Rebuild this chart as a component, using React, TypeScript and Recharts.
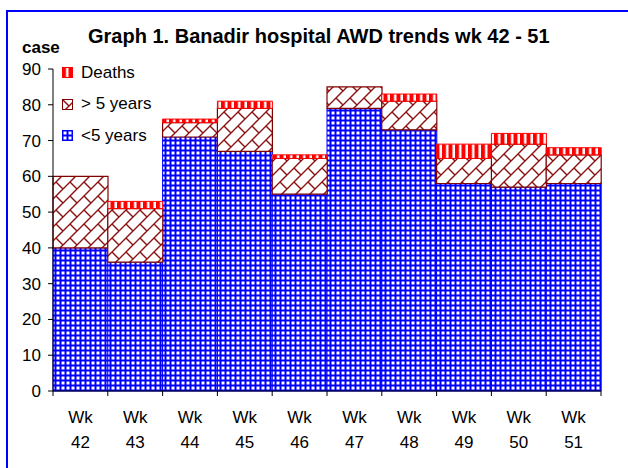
import React from 'react';
import { BarChart, Bar, XAxis, YAxis } from 'recharts';

// weekly AWD cases, Banadir hospital
const weeks = ['42', '43', '44', '45', '46', '47', '48', '49', '50', '51'];
const under5 = [40, 36, 71, 67, 55, 79, 73, 58, 57, 58];
const over5 = [20, 15, 4, 12, 10, 6, 8, 7, 12, 8];
const deaths = [0, 2, 1, 2, 1, 0, 2, 4, 3, 2];
const yTicks = [0, 10, 20, 30, 40, 50, 60, 70, 80, 90];

const data = weeks.map((wk, i) => ({
  wk,
  under5: under5[i],
  over5: over5[i],
  deaths: deaths[i],
}));

const FONT = '"Liberation Sans", Arial, sans-serif';

// Excel-like fill patterns, shared by bars and legend icons
const Patterns = () => (
  <svg width={0} height={0} style={{ position: 'absolute' }}>
    <defs>
      <pattern id="pBlue" width={5} height={5} patternUnits="userSpaceOnUse">
        <rect width={5} height={5} fill="#0000ff" />
        <rect x={1.5} y={1.5} width={3} height={3} fill="#ffffff" />
      </pattern>
      <pattern id="pBrick" width={14} height={14} patternUnits="userSpaceOnUse">
        <rect width={14} height={14} fill="#ffffff" />
        <path
          d="M0 14 L14 0 M-2 2 L2 -2 M12 16 L16 12 M0 0 L7 7"
          stroke="#8b1010"
          strokeWidth={1.4}
          fill="none"
        />
      </pattern>
      <pattern id="pRed" width={6.5} height={10} patternUnits="userSpaceOnUse">
        <rect width={6.5} height={10} fill="#ff0000" />
        <rect x={4} width={2.5} height={10} fill="#ffffff" />
      </pattern>
    </defs>
  </svg>
);

const legendItems = [
  { label: 'Deaths', fill: 'url(#pRed)', stroke: '#ff0000' },
  { label: '> 5 years', fill: 'url(#pBrick)', stroke: '#800000' },
  { label: '<5 years', fill: 'url(#pBlue)', stroke: '#0000ff' },
];

const LegendBox = () => (
  <div style={{ fontFamily: FONT, fontSize: 17, color: '#000' }}>
    {legendItems.map((it) => (
      <div key={it.label} style={{ display: 'flex', alignItems: 'center', height: 31.5 }}>
        <svg width={11} height={11} style={{ marginRight: 8 }}>
          <rect x={0.5} y={0.5} width={10} height={10} fill={it.fill} stroke={it.stroke} />
        </svg>
        <span>{it.label}</span>
      </div>
    ))}
  </div>
);

const WeekTick = (props: any) => {
  const { x, y, payload, index } = props;
  const half = payload && payload.offset ? payload.offset : 27.4;
  return (
    <g>
      <line x1={x - half} y1={y} x2={x - half} y2={y + 5} stroke="#000" />
      {index === weeks.length - 1 && (
        <line x1={x + half} y1={y} x2={x + half} y2={y + 5} stroke="#000" />
      )}
      <text x={x} y={y + 32} textAnchor="middle" fontSize={17} fontFamily={FONT} fill="#000">
        Wk
      </text>
      <text x={x} y={y + 57} textAnchor="middle" fontSize={17} fontFamily={FONT} fill="#000">
        {payload.value}
      </text>
    </g>
  );
};

export default function App() {
  return (
    <div
      style={{
        position: 'absolute',
        left: 0,
        top: 0,
        width: 628,
        height: 468,
        overflow: 'hidden',
        background: '#fff',
        fontFamily: FONT,
      }}
    >
      <Patterns />
      <div
        style={{
          position: 'absolute',
          left: 6,
          top: 10,
          width: 700,
          height: 520,
          borderLeft: '2px solid #0000ff',
          borderTop: '2px solid #0000ff',
        }}
      />
      <div
        style={{
          position: 'absolute',
          left: 88,
          top: 25,
          fontSize: 20,
          fontWeight: 'bold',
          whiteSpace: 'nowrap',
          color: '#000',
        }}
      >
        Graph 1. Banadir hospital AWD trends wk 42 - 51
      </div>
      <div
        style={{
          position: 'absolute',
          left: 22,
          top: 38,
          fontSize: 17,
          fontWeight: 'bold',
          color: '#000',
        }}
      >
        case
      </div>
      <div style={{ position: 'absolute', left: 0, top: 0 }}>
        <BarChart
          width={628}
          height={468}
          data={data}
          margin={{ top: 69, right: 27, bottom: 17, left: 0 }}
          barCategoryGap={0}
          barGap={0}
        >
          <XAxis
            dataKey="wk"
            height={60}
            axisLine={{ stroke: '#000' }}
            tickLine={false}
            tickSize={0}
            tickMargin={0}
            interval={0}
            tick={<WeekTick />}
          />
          <YAxis
            width={53}
            domain={[0, 90]}
            ticks={yTicks}
            interval={0}
            axisLine={{ stroke: '#000' }}
            tickLine={{ stroke: '#000' }}
            tickSize={5}
            tickMargin={7}
            tick={{ fontSize: 17, fill: '#000', fontFamily: FONT }}
          />
          <Bar
            dataKey="under5"
            name="<5 years"
            stackId="a"
            fill="url(#pBlue)"
            stroke="#0000ff"
            strokeWidth={1}
            isAnimationActive={false}
          />
          <Bar
            dataKey="over5"
            name="> 5 years"
            stackId="a"
            fill="url(#pBrick)"
            stroke="#800000"
            strokeWidth={1.2}
            isAnimationActive={false}
          />
          <Bar
            dataKey="deaths"
            name="Deaths"
            stackId="a"
            fill="url(#pRed)"
            stroke="#ff0000"
            strokeWidth={1}
            isAnimationActive={false}
          />
        </BarChart>
      </div>
      <div style={{ position: 'absolute', left: 62, top: 57 }}>
        <LegendBox />
      </div>
    </div>
  );
}
